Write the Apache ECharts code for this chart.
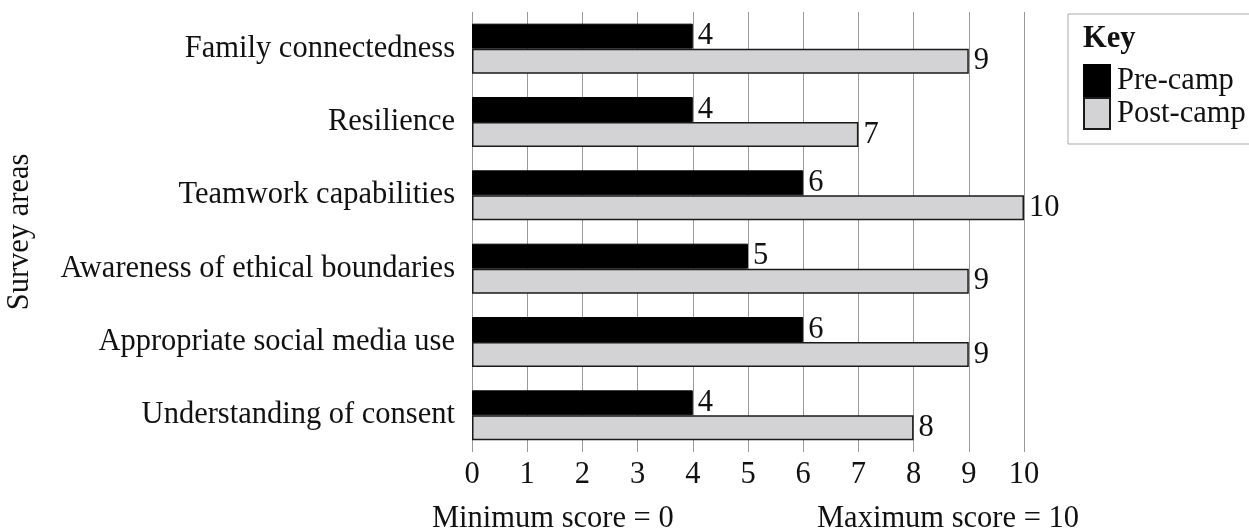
<!DOCTYPE html>
<html>
<head>
<meta charset="utf-8">
<script src="https://cdn.jsdelivr.net/npm/echarts@6/dist/echarts.min.js"></script>
<style>
  html, body { margin: 0; padding: 0; background: #fff; }
  #chart { width: 1249px; height: 532px; }
</style>
</head>
<body>
<div id="chart"></div>
<script>
// Survey areas, listed top to bottom
const categories = [
  'Family connectedness',
  'Resilience',
  'Teamwork capabilities',
  'Awareness of ethical boundaries',
  'Appropriate social media use',
  'Understanding of consent'
];
const preCamp = [4, 4, 6, 5, 6, 4];
const postCamp = [9, 7, 10, 9, 9, 8];
const scoreTicks = [0, 1, 2, 3, 4, 5, 6, 7, 8, 9, 10];

const FONT = '"Liberation Serif", "Times New Roman", serif';
const FS = 30.5;

const chart = echarts.init(document.getElementById('chart'), null, { renderer: 'canvas' });

const valueLabel = {
  show: true,
  position: 'right',
  distance: 5,
  fontFamily: FONT,
  fontSize: FS,
  color: '#111'
};

chart.setOption({
  animation: false,
  backgroundColor: '#fff',
  textStyle: { fontFamily: FONT },
  grid: { left: 472, right: 225, top: 12, bottom: 80, containLabel: false, outerBoundsMode: 'none' },
  xAxis: {
    type: 'value',
    min: scoreTicks[0],
    max: scoreTicks[scoreTicks.length - 1],
    interval: 1,
    axisLine: { show: false },
    axisTick: { show: false },
    splitLine: { show: true, lineStyle: { color: '#9a9a9a', width: 1 } },
    axisLabel: { fontFamily: FONT, fontSize: FS, color: '#111', margin: 7 }
  },
  yAxis: {
    type: 'category',
    data: categories,
    inverse: true,
    name: 'Survey areas',
    nameLocation: 'middle',
    nameRotate: 90,
    nameGap: 437,
    nameTextStyle: { fontFamily: FONT, fontSize: FS, color: '#111' },
    axisLine: { show: false },
    axisTick: { show: false },
    splitLine: { show: false },
    axisLabel: { fontFamily: FONT, fontSize: FS, color: '#111', margin: 17 }
  },
  legend: {
    orient: 'vertical',
    left: 1068,
    top: 14,
    padding: [50, 20, 14, 15],
    borderColor: '#aaaaaa',
    borderWidth: 1,
    itemWidth: 26,
    itemHeight: 31,
    itemGap: 0,
    icon: 'rect',
    textStyle: { fontFamily: FONT, fontSize: FS, lineHeight: 31, color: '#111', padding: [0, 0, 0, 2] },
    data: ['Pre-camp', 'Post-camp']
  },
  graphic: [
    {
      type: 'text',
      style: { text: 'Key', x: 1083, y: 39, font: 'bold ' + FS + 'px ' + FONT, fill: '#111', textVerticalAlign: 'middle' }
    },
    {
      type: 'text',
      style: { text: 'Minimum score = 0', x: 432, y: 519, font: FS + 'px ' + FONT, fill: '#111', textVerticalAlign: 'middle' }
    },
    {
      type: 'text',
      style: { text: 'Maximum score = 10', x: 817, y: 519, font: FS + 'px ' + FONT, fill: '#111', textVerticalAlign: 'middle' }
    }
  ],
  series: [
    {
      name: 'Pre-camp',
      type: 'bar',
      data: preCamp,
      barWidth: 25,
      barGap: '0%',
      itemStyle: { color: '#000', borderColor: '#000', borderWidth: 1 },
      label: valueLabel
    },
    {
      name: 'Post-camp',
      type: 'bar',
      data: postCamp,
      barWidth: 25,
      barGap: '0%',
      itemStyle: { color: '#d3d3d5', borderColor: '#1a1a1a', borderWidth: 1.5 },
      label: valueLabel
    }
  ]
});
</script>
</body>
</html>
